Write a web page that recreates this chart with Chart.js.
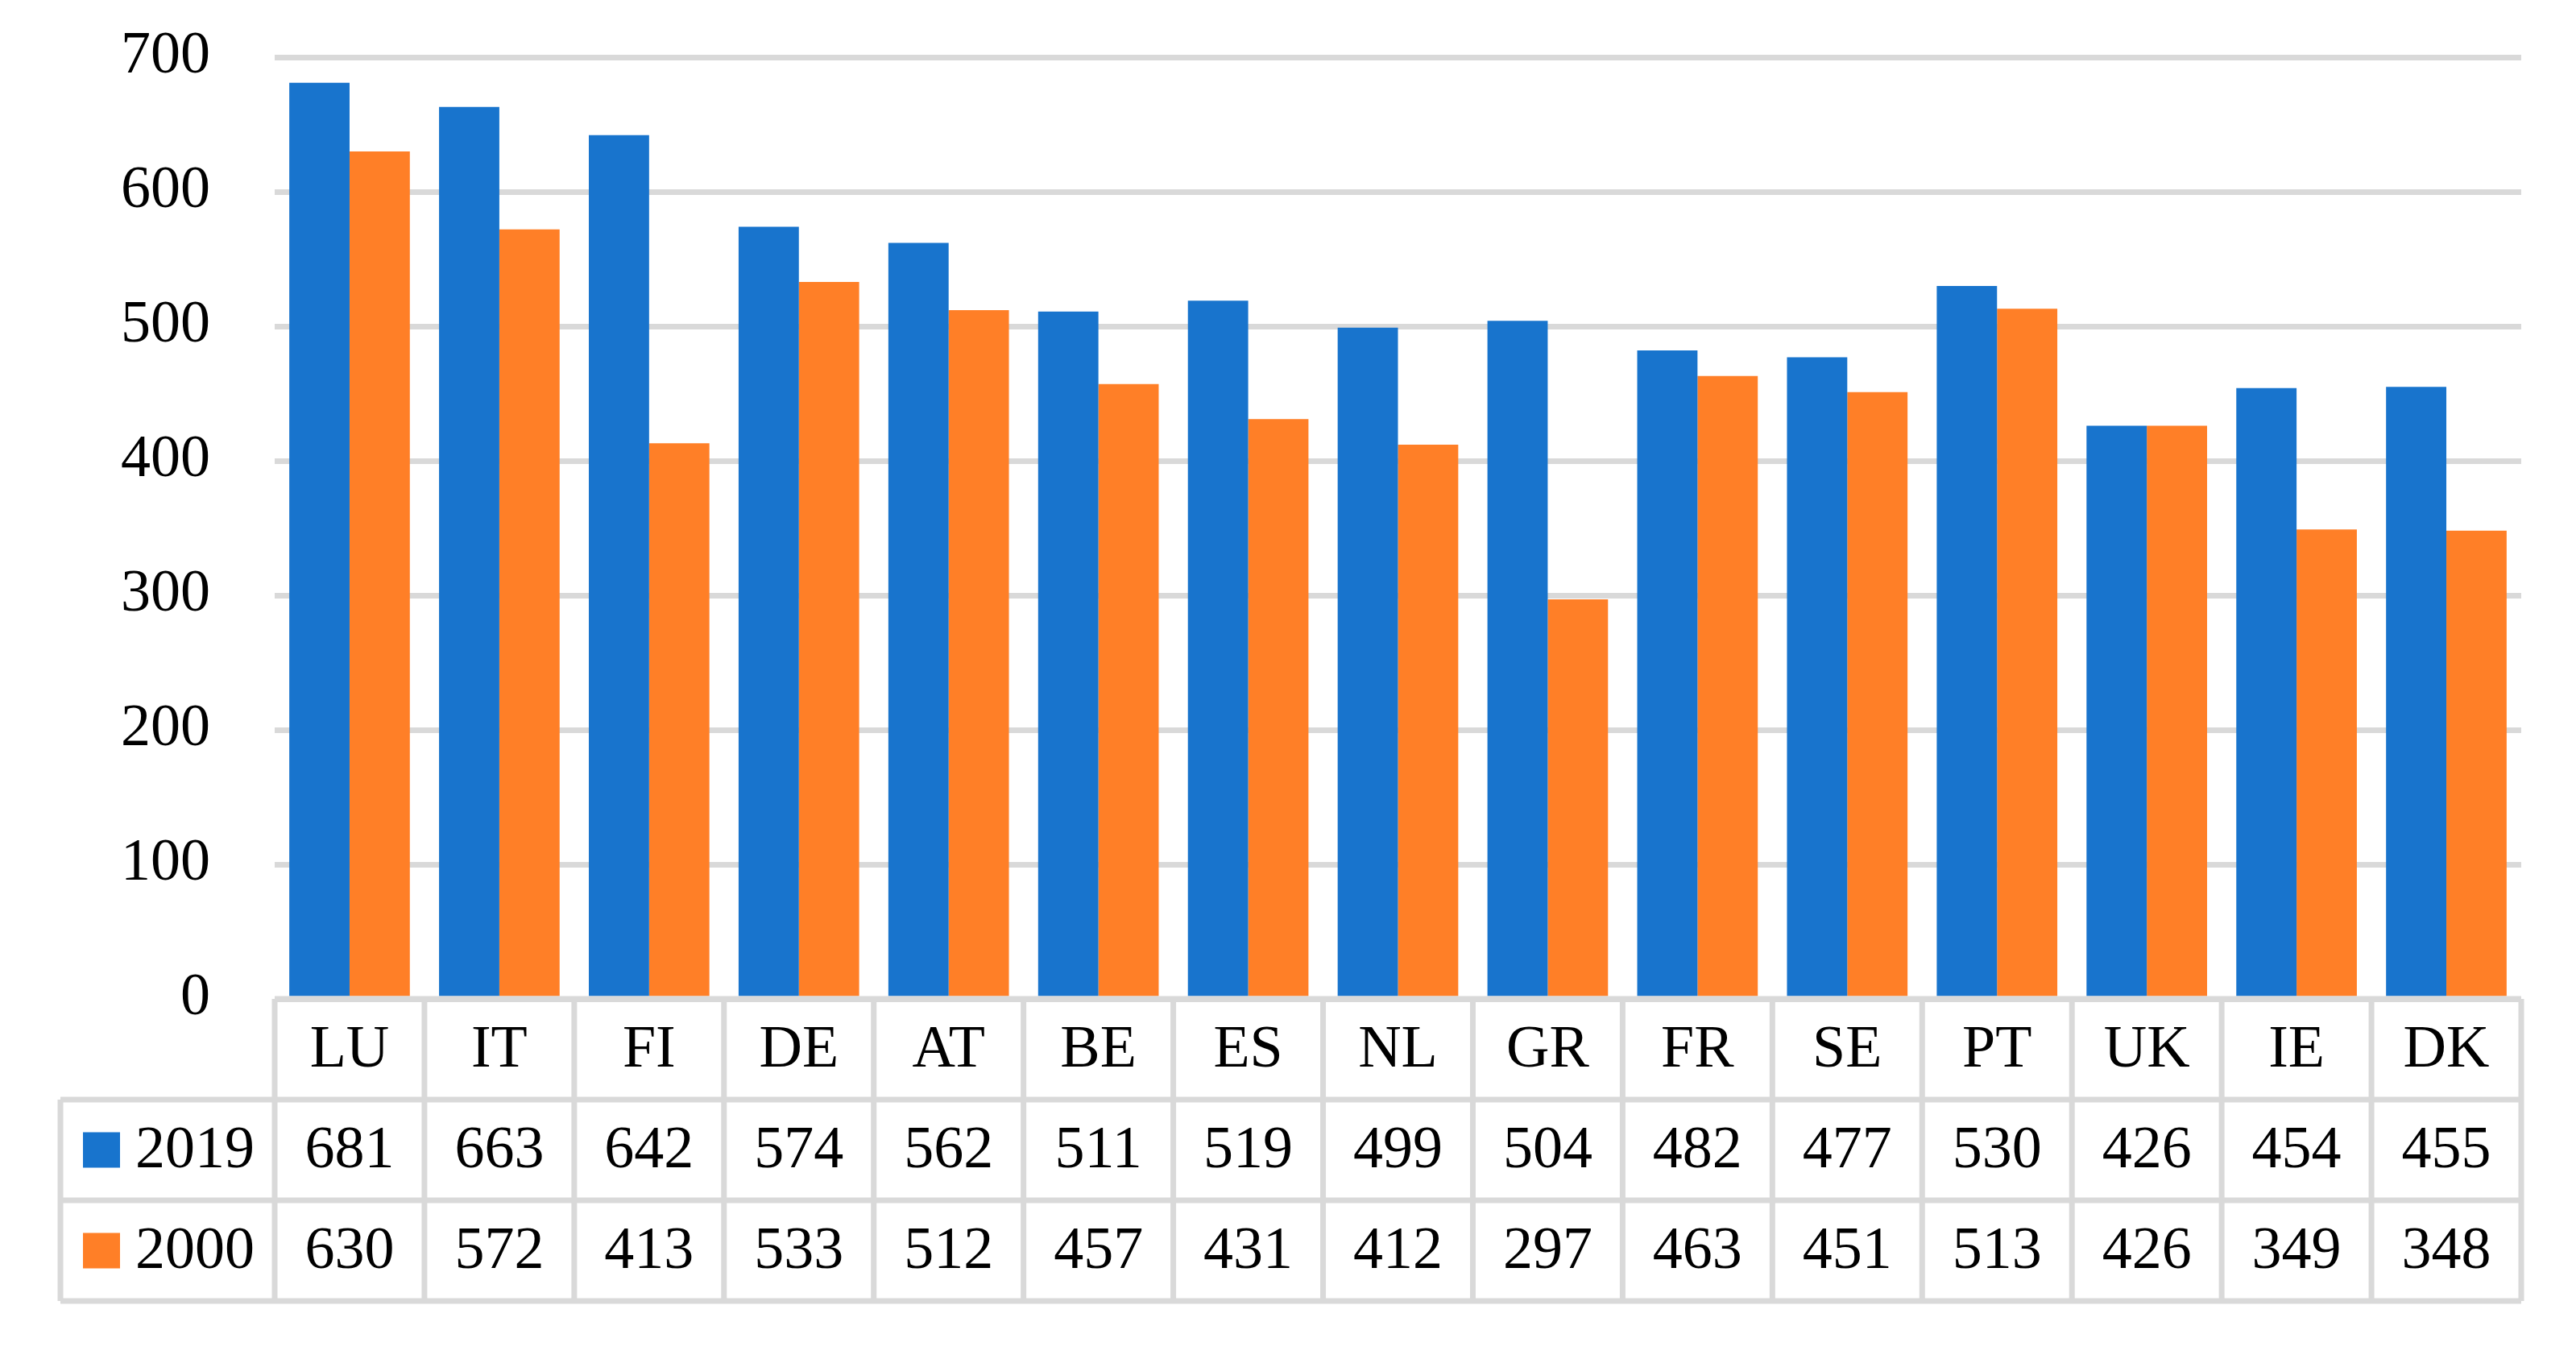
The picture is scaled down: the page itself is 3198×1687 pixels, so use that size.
<!DOCTYPE html>
<html>
<head>
<meta charset="utf-8">
<script src="https://cdn.jsdelivr.net/npm/chart.js@4"></script>
<style>
  body { margin: 0; background: #fff; }
  canvas { display: block; }
</style>
</head>
<body>
<canvas id="chart" width="3198" height="1687"></canvas>
<script>
const countries = ['LU', 'IT', 'FI', 'DE', 'AT', 'BE', 'ES', 'NL', 'GR', 'FR', 'SE', 'PT', 'UK', 'IE', 'DK'];
const values2019 = [681, 663, 642, 574, 562, 511, 519, 499, 504, 482, 477, 530, 426, 454, 455];
const values2000 = [630, 572, 413, 533, 512, 457, 431, 412, 297, 463, 451, 513, 426, 349, 348];
const yTicks = [0, 100, 200, 300, 400, 500, 600, 700];

const BLUE = '#1874cd';
const ORANGE = '#ff7f27';
const GRID = '#d9d9d9';
const FONT = '74px "Liberation Serif", "DejaVu Serif", serif';

// draws the data table under the plot (category row, one row per series)
const dataTable = {
    id: 'dataTable',
    afterDraw(chart) {
        const ctx = chart.ctx;
        const x = chart.scales.x;
        const area = chart.chartArea;
        const rowH = 125;
        const top = area.bottom;
        const legendLeft = 75;
        const rows = [
            { label: '2019', color: BLUE, data: values2019 },
            { label: '2000', color: ORANGE, data: values2000 }
        ];
        const bottom = top + rowH * (rows.length + 1);

        ctx.save();
        ctx.strokeStyle = GRID;
        ctx.lineWidth = 7;
        ctx.beginPath();
        // top line of the category row
        ctx.moveTo(area.left, top);
        ctx.lineTo(area.right, top);
        // horizontal row lines
        for (let r = 1; r <= rows.length + 1; r++) {
            ctx.moveTo(legendLeft, top + rowH * r);
            ctx.lineTo(area.right, top + rowH * r);
        }
        // vertical column lines
        const step = (area.right - area.left) / countries.length;
        for (let i = 0; i <= countries.length; i++) {
            const cx = area.left + step * i;
            ctx.moveTo(cx, top);
            ctx.lineTo(cx, bottom);
        }
        ctx.moveTo(legendLeft, top + rowH);
        ctx.lineTo(legendLeft, bottom);
        ctx.stroke();

        ctx.fillStyle = '#000';
        ctx.font = FONT;
        ctx.textAlign = 'center';
        ctx.textBaseline = 'middle';
        countries.forEach((c, i) => {
            ctx.fillText(c, x.getPixelForValue(i), top + rowH / 2 + 2);
        });
        rows.forEach((row, r) => {
            const cy = top + rowH * (r + 1.5);
            row.data.forEach((v, i) => {
                ctx.fillText(String(v), x.getPixelForValue(i), cy + 2);
            });
            ctx.fillStyle = row.color;
            ctx.fillRect(103, cy - 22, 46, 44);
            ctx.fillStyle = '#000';
            ctx.textAlign = 'left';
            ctx.fillText(row.label, 168, cy + 2);
            ctx.textAlign = 'center';
        });
        ctx.restore();
    }
};

new Chart(document.getElementById('chart'), {
    type: 'bar',
    data: {
        labels: countries,
        datasets: [
            { label: '2019', data: values2019, backgroundColor: BLUE },
            { label: '2000', data: values2000, backgroundColor: ORANGE }
        ]
    },
    options: {
        responsive: false,
        devicePixelRatio: 1,
        animation: false,
        layout: { padding: { top: 71, right: 68, bottom: 447, left: 0 } },
        datasets: { bar: { categoryPercentage: 0.805, barPercentage: 1.0 } },
        plugins: { legend: { display: false }, tooltip: { enabled: false } },
        scales: {
            x: { display: false },
            y: {
                min: 0,
                max: 700,
                afterFit(scale) {
                    scale.width = 341;
                    scale.paddingTop = 0;
                    scale.paddingBottom = 0;
                },
                afterBuildTicks(scale) { scale.ticks = yTicks.map(v => ({ value: v })); },
                border: { display: false },
                grid: { color: GRID, lineWidth: 7, drawTicks: false },
                ticks: {
                    padding: 80,
                    color: '#000',
                    font: { family: '"Liberation Serif", "DejaVu Serif", serif', size: 74 }
                }
            }
        }
    },
    plugins: [dataTable]
});
</script>
</body>
</html>
